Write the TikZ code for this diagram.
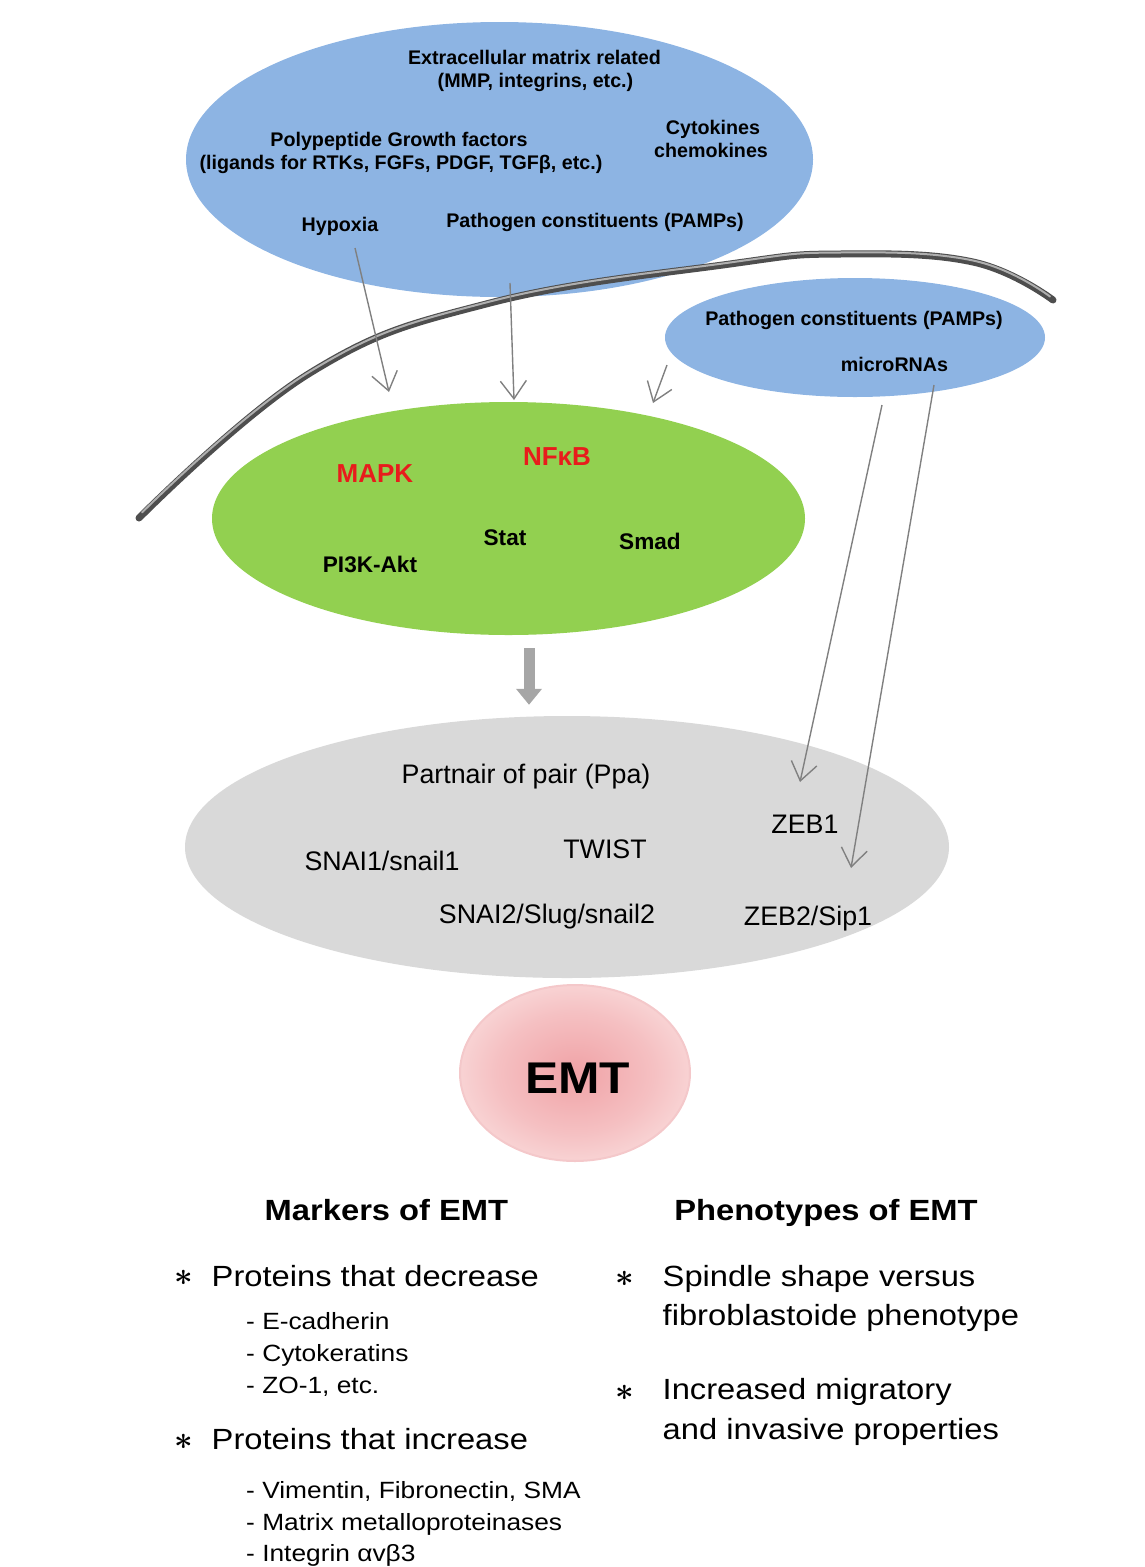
\documentclass[tikz,border=0pt]{standalone}
\usepackage{graphicx}
\usepackage{fontspec}
\setmainfont{Liberation Sans}
\newfontfamily\widefont{Liberation Sans}[FakeStretch=1.12]
\usetikzlibrary{shapes.geometric,arrows.meta}
\definecolor{blueE}{RGB}{141,180,227}
\definecolor{greenE}{RGB}{146,208,80}
\definecolor{greyE}{RGB}{217,217,217}
\definecolor{redT}{RGB}{232,28,28}
\definecolor{arrowC}{RGB}{128,128,128}
\definecolor{bigC}{RGB}{166,166,166}
\definecolor{emtin}{RGB}{240,162,166}
\definecolor{emtmid}{RGB}{245,192,194}
\definecolor{emtout}{RGB}{250,222,222}
\definecolor{emtrim}{RGB}{244,200,202}
\definecolor{memdark}{RGB}{78,78,78}
\definecolor{memlight}{RGB}{175,175,175}
\pgfdeclareradialshading{emtshade}{\pgfpoint{0bp}{0bp}}{color(0bp)=(emtin); color(17bp)=(emtmid); color(30bp)=(emtout); color(50bp)=(emtout)}
\begin{document}
\begin{tikzpicture}[x=1pt,y=-1pt,
  ell/.style={ellipse, inner sep=0pt, draw=none},
  toplab/.style={anchor=base, inner sep=0pt, font=\bfseries\fontsize{19.7}{23}\selectfont},
  sigred/.style={anchor=base, inner sep=0pt, text=redT, font=\bfseries\fontsize{26}{30}\selectfont},
  sigblk/.style={anchor=base, inner sep=0pt, font=\bfseries\fontsize{22.6}{26}\selectfont},
  tflab/.style={anchor=base, inner sep=0pt, font=\fontsize{26.8}{30}\selectfont},
  head/.style={anchor=base, inner sep=0pt, font=\widefont\bfseries\fontsize{29.2}{34}\selectfont},
  item/.style={anchor=base west, inner sep=0pt, font=\widefont\fontsize{29.2}{34}\selectfont},
  subitem/.style={anchor=base west, inner sep=0pt, font=\widefont\fontsize{23.5}{28}\selectfont},
  star/.style={anchor=center, inner sep=0pt, font=\fontsize{24}{24}\selectfont\boldmath},
  thinarrow/.style={draw=arrowC, line width=1.4pt, -{Straight Barb[length=18pt,width=26pt,line width=1.4pt]}},
  bigarrow/.style={draw=bigC, line width=11pt, -{Triangle[length=16pt,width=25pt]}},
]
\useasboundingbox (0,0) rectangle (1145,1567);

% ellipses
\node[ell, fill=blueE, minimum width=627pt, minimum height=275pt] (top) at (499.5,159.5) {};
\node[ell, fill=blueE, minimum width=380pt, minimum height=119pt] (small) at (855,337.5) {};
\node[ell, fill=greenE, minimum width=593pt, minimum height=233pt] (green) at (508.5,518.5) {};
\node[ell, fill=greyE, minimum width=764pt, minimum height=262pt] (grey) at (567,847) {};
\node[ell, shading=emtshade, draw=emtrim, line width=2pt, minimum width=230pt, minimum height=176pt] (emt) at (575,1073) {};

% membrane
\draw[line width=7pt, memdark, line cap=round] plot[smooth, tension=0.7] coordinates {(139,518) (310,373) (490,303) (730,264) (840,254) (973,262) (1053,300)};
\draw[line width=2pt, memlight, line cap=round, yshift=1.5pt] plot[smooth, tension=0.7] coordinates {(142,514) (310,373) (490,303) (730,264) (840,254) (973,262) (1050,298)};

% arrow end points
\coordinate (hypS) at (355,248);
\coordinate (hypT) at (389,392);
\coordinate (pamS) at (510,283);
\coordinate (pamT) at (514,400);
\coordinate (smS) at (667,365);
\coordinate (smT) at (653,403);
\coordinate (mirA) at (882,405);
\coordinate (zebA) at (800,782);
\coordinate (mirB) at (934,385);
\coordinate (zebB) at (851,868);

\draw[thinarrow] (hypS) -- (hypT);
\draw[thinarrow] (pamS) -- (pamT);
\draw[thinarrow] (smS) -- (smT);
\draw[thinarrow] (mirA) -- (zebA);
\draw[thinarrow] (mirB) -- (zebB);
\draw[bigarrow, shorten <=13pt, shorten >=11pt] ([xshift=20.5pt]green.south) -- ([xshift=20.5pt]green.south |- grey.north);

% top ellipse texts
\node[toplab] (ecm1) at (534.5,64) {Extracellular matrix related};
\node[toplab] (ecm2) at (535.5,87) {(MMP, integrins, etc.)};
\node[toplab] (pgf1) at (399,146) {Polypeptide Growth factors};
\node[toplab] (pgf2) at (401,169) {(ligands for RTKs, FGFs, PDGF, TGFβ, etc.)};
\node[toplab] (cyt1) at (713,134) {Cytokines};
\node[toplab] (cyt2) at (711,157) {chemokines};
\node[toplab] (hyp) at (340,231) {Hypoxia};
\node[toplab] (pamp1) at (595,227) {Pathogen constituents (PAMPs)};
% small ellipse texts
\node[toplab] (pamp2) at (854,325) {Pathogen constituents (PAMPs)};
\node[toplab] (mir) at (894.5,371) {microRNAs};
% green ellipse texts
\node[sigred] (mapk) at (375,482) {MAPK};
\node[sigred] (nfkb) at (557,465) {NFκB};
\node[sigblk] (stat) at (505,545) {Stat};
\node[sigblk] (smad) at (650,549) {Smad};
\node[sigblk] (pi3k) at (370,572) {PI3K-Akt};
% grey ellipse texts
\node[tflab] (ppa) at (526,783) {Partnair of pair (Ppa)};
\node[tflab] (zeb1) at (805,833) {ZEB1};
\node[tflab] (twist) at (605,858) {TWIST};
\node[tflab] (snai1) at (382,870) {SNAI1/snail1};
\node[tflab] (snai2) at (547,923) {SNAI2/Slug/snail2};
\node[tflab] (zeb2) at (808,925) {ZEB2/Sip1};
% EMT
\node[anchor=base, inner sep=0pt, font=\widefont\bfseries\fontsize{44.4}{50}\selectfont] (emtlab) at (577.5,1093) {EMT};

% bottom
\node[head] (mhead) at (386.5,1220) {Markers of EMT};
\node[head] (phead) at (826,1220) {Phenotypes of EMT};
\node[star] (s1) at (184,1278) {\scalebox{1.3}{$\ast$}};
\node[item] (dec) at (211.5,1286) {Proteins that decrease};
\node[subitem] (d1) at (246,1329) {- E-cadherin};
\node[subitem] (d2) at (246,1361) {- Cytokeratins};
\node[subitem] (d3) at (246,1393) {- ZO-1, etc.};
\node[star] (s2) at (184,1442) {\scalebox{1.3}{$\ast$}};
\node[item] (inc) at (211.5,1449) {Proteins that increase};
\node[subitem] (i1) at (246,1498) {- Vimentin, Fibronectin, SMA};
\node[subitem] (i2) at (246,1530) {- Matrix metalloproteinases};
\node[subitem] (i3) at (246,1561) {- Integrin αvβ3};
\node[star] (s3) at (625,1279) {\scalebox{1.3}{$\ast$}};
\node[item] (p1) at (662.5,1286) {Spindle shape versus};
\node[item] (p2) at (662.5,1325) {fibroblastoide phenotype};
\node[star] (s4) at (625,1393) {\scalebox{1.3}{$\ast$}};
\node[item] (p3) at (662.5,1399) {Increased migratory};
\node[item] (p4) at (662.5,1439) {and invasive properties};
\end{tikzpicture}
\end{document}
